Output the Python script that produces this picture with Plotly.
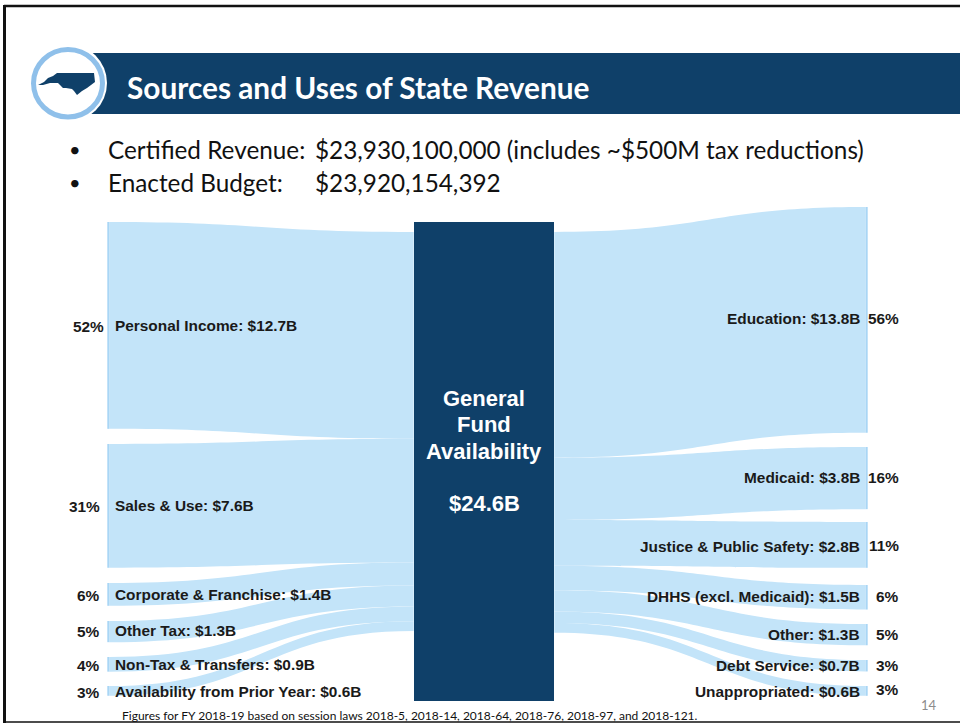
import plotly.graph_objects as go

W, H = 960, 723

# ---- data ----
source_names = ["Personal Income", "Sales & Use", "Corporate & Franchise", "Other Tax",
                "Non-Tax & Transfers", "Availability from Prior Year"]
source_values = [12.7, 7.6, 1.4, 1.3, 0.9, 0.6]
source_pcts = ["52%", "31%", "6%", "5%", "4%", "3%"]
use_names = ["Education", "Medicaid", "Justice & Public Safety", "DHHS (excl. Medicaid)",
             "Other", "Debt Service", "Unappropriated"]
use_values = [13.8, 3.8, 2.8, 1.5, 1.3, 0.7, 0.6]
use_pcts = ["56%", "16%", "11%", "6%", "5%", "3%", "3%"]
center_lines = ["General", "Fund", "Availability"]
center_total = "$24.6B"

# ---- layout positions (pixels on the slide) ----
src_top_px = [222, 444, 583, 621, 657, 686]
src_label_y = [325, 505, 594, 630, 664, 691]
src_pct_right = [104, 100, 100, 100, 100, 100]
use_top_px = [207, 447, 522, 585, 624, 660, 686]
use_label_y = [318, 477, 546, 596, 634, 665, 691]
use_pct_y = [318, 477, 545, 596, 634, 665, 689]
FLOW = "#c3e4f9"
NODE = "#a9d6f5"
NAVY = "#0f4069"
TXT = "#1a1a1a"
L_TOP, L_BOT = 222, 696
R_TOP, R_BOT = 207, 696
CENTER_TOP = 232
THICK = 2


def sankey(side_values, tops, top, bot, x0, x1, left_side, pad):
    n = len(side_values)
    ky = ((bot - top) - (n - 1) * pad) / sum(side_values)
    span = bot - top
    # plotly reads node.y as the centre of the node, as a fraction of the domain
    ys = [(t + v * ky / 2 - top) / span for t, v in zip(tops, side_values)]
    total = sum(side_values)
    yc = (CENTER_TOP + total * ky / 2 - top) / span
    colors = [NODE] * n + ["rgba(0,0,0,0)"]
    nx = ([0.001] * n + [0.999]) if left_side else ([0.999] * n + [0.001])
    if left_side:
        src, tgt = list(range(n)), [n] * n
    else:
        src, tgt = [n] * n, list(range(n))
    return go.Sankey(
        arrangement="fixed",
        domain=dict(x=[x0 / W, x1 / W], y=[1 - bot / H, 1 - top / H]),
        node=dict(label=[""] * (n + 1), x=nx, y=ys + [yc], pad=pad, thickness=THICK,
                  color=colors, line=dict(width=0), hoverinfo="skip"),
        link=dict(source=src, target=tgt, value=list(side_values), color=FLOW,
                  hoverinfo="skip"),
        hoverinfo="skip",
    )


fig = go.Figure()
fig.add_trace(sankey(source_values, src_top_px, L_TOP, L_BOT, 108, 415, True, 15))
fig.add_trace(sankey(use_values, use_top_px, R_TOP, R_BOT, 553, 867, False, 14.7))

shapes = [
    dict(type="rect", x0=414, x1=554, y0=222, y1=701, fillcolor=NAVY, line=dict(width=0)),
    dict(type="rect", x0=90, x1=960, y0=53, y1=114, fillcolor=NAVY, line=dict(width=0)),
    dict(type="circle", x0=29, x1=107, y0=44, y1=122, fillcolor="white", line=dict(width=0)),
    dict(type="circle", x0=33.5, x1=102.5, y0=49.5, y1=117, fillcolor="white",
         line=dict(color="#8fc0ea", width=5)),
    dict(type="path",
         path="M38,85 L44,82 L48,78 L53,76 L57,73 L94,73 L95,82 L91,85 L87,88 L82,91 L77,95 "
              "L74,91 L72,89 L66,88 L63,88 L60,85 L58,83 L50,83 L43,85 Z",
         fillcolor=NAVY, line=dict(width=0)),
    dict(type="line", x0=4, x1=960, y0=6, y1=6, line=dict(color="#111", width=2.5)),
    dict(type="line", x0=4.5, x1=4.5, y0=5, y1=723, line=dict(color="#111", width=3)),
    dict(type="line", x0=4, x1=960, y0=722, y1=722, line=dict(color="#111", width=1.5)),
]

ann = []


def text(x, y, s, size, color=TXT, anchor="left", family="Liberation Sans", bold=False):
    ann.append(dict(x=x, y=y, text=f"<b>{s}</b>" if bold else s, showarrow=False, xref="x", yref="y",
                    xanchor=anchor, yanchor="middle", font=dict(family=family, size=size, color=color),
                    borderpad=0, borderwidth=0))


for name, v, p, y, pr in zip(source_names, source_values, source_pcts, src_label_y, src_pct_right):
    text(115, y, f"{name}: ${v}B", 15.4, bold=True)
    text(pr, y + 1, p, 15.4, anchor="right", bold=True)
for name, v, p, y, py in zip(use_names, use_values, use_pcts, use_label_y, use_pct_y):
    text(860, y, f"{name}: ${v}B", 15.4, anchor="right", bold=True)
    text(899, py, p, 15.4, anchor="right", bold=True)
for s, y in zip(center_lines, [398, 424, 451]):
    text(484, y, s, 22, color="white", anchor="center", bold=True)
text(484, 503, center_total, 22, color="white", anchor="center", bold=True)

text(127, 87, "Sources and Uses of State Revenue", 29.8, color="white", family="Lato", bold=True)
text(75, 149, "•", 20, color="#111", anchor="center", family="Lato")
text(75, 182, "•", 20, color="#111", anchor="center", family="Lato")
text(108, 149, "Certified Revenue:", 24.3, color="#111", family="Lato")
text(315, 149, "$23,930,100,000 (includes ~$500M tax reductions)", 24.3, color="#111", family="Lato")
text(108, 182, "Enacted Budget:", 24.3, color="#111", family="Lato")
text(315, 182, "$23,920,154,392", 24.3, color="#111", family="Lato")
text(122, 715, "Figures for FY 2018-19 based on session laws 2018-5, 2018-14, 2018-64, 2018-76, 2018-97, and 2018-121.",
     12, color="#111", family="Lato")
text(929, 705, "14", 13, color="#8c8c8c", anchor="center", family="Lato")

fig.update_layout(
    width=W, height=H, margin=dict(l=0, r=0, t=0, b=0),
    paper_bgcolor="white", plot_bgcolor="rgba(0,0,0,0)", showlegend=False,
    xaxis=dict(range=[0, W], visible=False, fixedrange=True),
    yaxis=dict(range=[H, 0], visible=False, fixedrange=True),
    shapes=shapes, annotations=ann,
)
fig.add_trace(go.Scatter(x=[0], y=[0], mode="markers", marker=dict(opacity=0), hoverinfo="skip"))
fig.write_html("out.html", config=dict(displayModeBar=False),
               post_script="document.body.style.margin='0';document.body.style.overflow='hidden';")
